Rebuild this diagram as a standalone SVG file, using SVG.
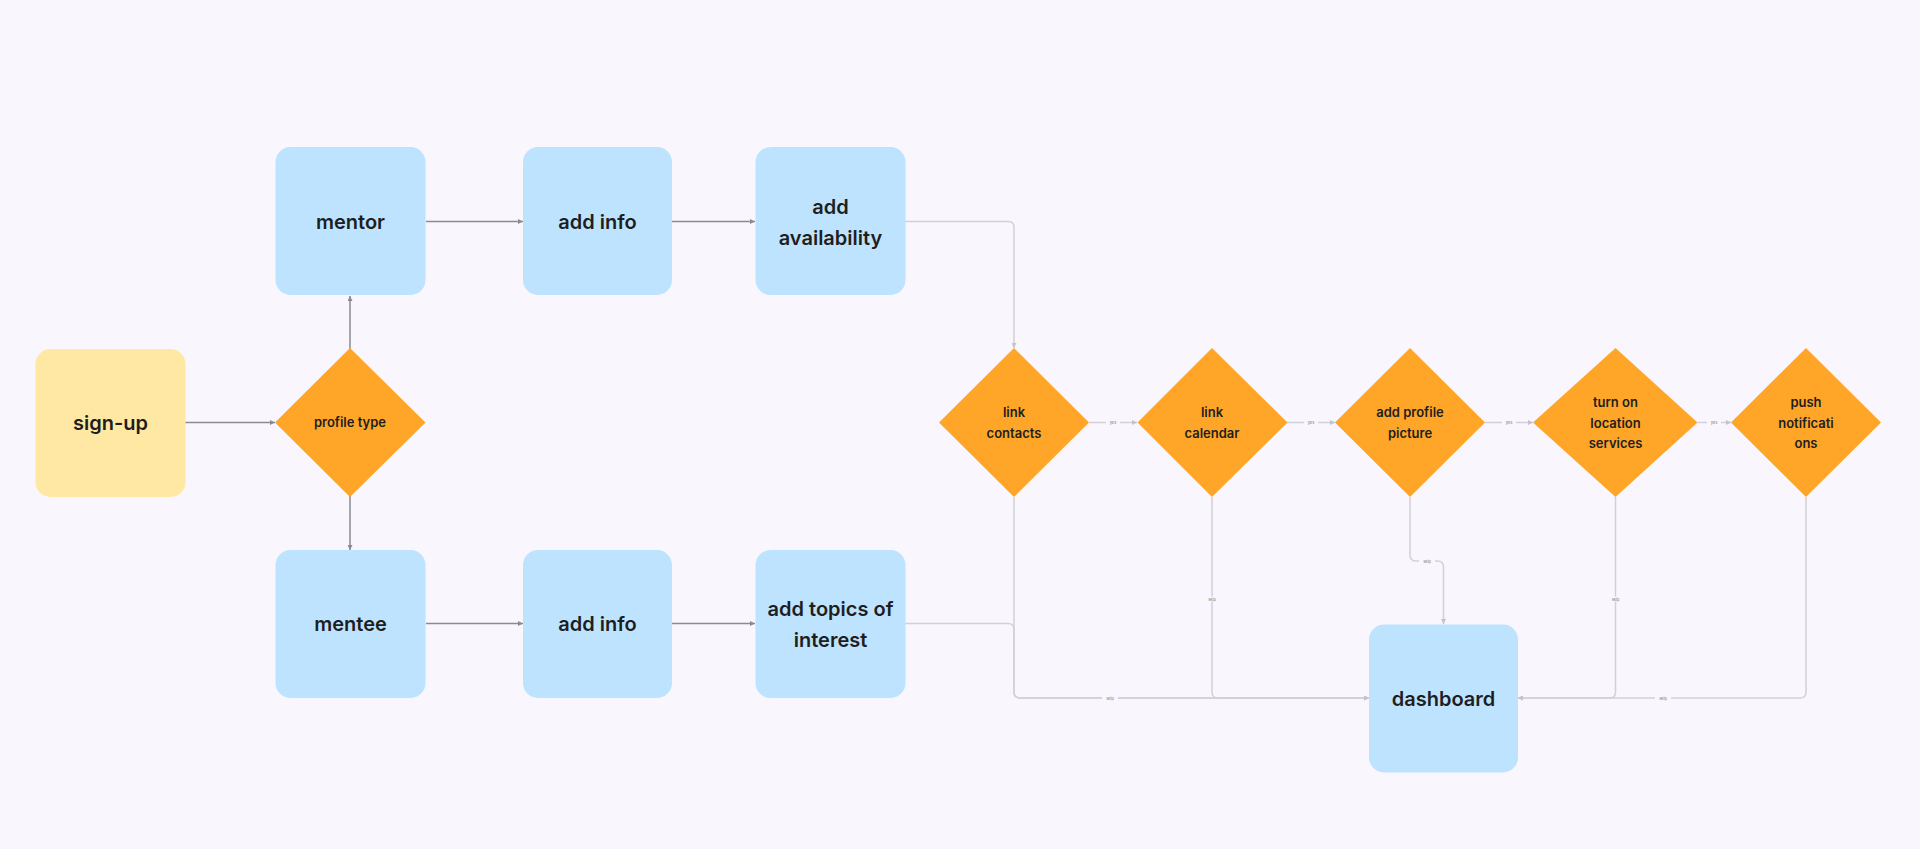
<svg xmlns="http://www.w3.org/2000/svg" width="1920" height="849" viewBox="0 0 1920 849">
<defs>
<style>
.bg{fill:#F9F7FD}
.box{fill:#BEE3FE}
.start{fill:#FFE8A3}
.dia{fill:#FFA629}
.t{font-family:Inter,"Noto Sans","Liberation Sans",sans-serif;font-weight:600;fill:#1E1E1E;text-anchor:middle}
.big{font-size:20px}
.sm{font-size:13px}
.dk{fill:none;stroke:#8A8A92;stroke-width:1.5}
.lt{fill:none;stroke:#D2D0DA;stroke-width:1.5}
.lbl{font-family:Inter,"Liberation Sans",sans-serif;font-size:4px;fill:#777;text-anchor:middle}
.lblbg{fill:#F9F7FD}
</style>
<marker id="ad" viewBox="0 0 6 6" refX="6" refY="3" markerWidth="5" markerHeight="5" markerUnits="userSpaceOnUse" orient="auto"><path d="M0 0L6 3L0 6z" fill="#8A8A92"/></marker>
<marker id="al" viewBox="0 0 6 6" refX="6" refY="3" markerWidth="5" markerHeight="5" markerUnits="userSpaceOnUse" orient="auto"><path d="M0 0L6 3L0 6z" fill="#C4C2CC"/></marker>
</defs>
<rect class="bg" x="0" y="0" width="1920" height="849"/>

<g id="connectors">
<path class="dk" d="M185 422.5H275" marker-end="url(#ad)"/>
<path class="dk" d="M350 349V296" marker-end="url(#ad)"/>
<path class="dk" d="M350 496V550" marker-end="url(#ad)"/>
<path class="dk" d="M426 221.5H523" marker-end="url(#ad)"/>
<path class="dk" d="M672 221.5H755" marker-end="url(#ad)"/>
<path class="dk" d="M426 623.5H523" marker-end="url(#ad)"/>
<path class="dk" d="M672 623.5H755" marker-end="url(#ad)"/>
<path class="lt" d="M905 221.5H1008Q1014 221.5 1014 227.5V348" marker-end="url(#al)"/>
<path class="lt" d="M905 623.5H1008Q1014 623.5 1014 629.5V692Q1014 698 1020 698H1369" marker-end="url(#al)"/>
<path class="lt" d="M1014 497V692Q1014 698 1020 698H1369" marker-end="url(#al)"/>
<path class="lt" d="M1212 497V692Q1212 698 1218 698H1369" marker-end="url(#al)"/>
<path class="lt" d="M1410 497V555Q1410 561 1416 561H1437.5Q1443.5 561 1443.5 567V624" marker-end="url(#al)"/>
<path class="lt" d="M1615.5 497V692Q1615.5 698 1609.5 698H1518" marker-end="url(#al)"/>
<path class="lt" d="M1806 497V692Q1806 698 1800 698H1518" marker-end="url(#al)"/>
<path class="lt" d="M1089 422.5H1137" marker-end="url(#al)"/>
<path class="lt" d="M1287 422.5H1335" marker-end="url(#al)"/>
<path class="lt" d="M1485 422.5H1533" marker-end="url(#al)"/>
<path class="lt" d="M1697.5 422.5H1731" marker-end="url(#al)"/>
<g>
<rect class="lblbg" x="1106" y="420" width="14" height="5"/><text class="lbl" x="1113" y="424">yes</text>
<rect class="lblbg" x="1304" y="420" width="14" height="5"/><text class="lbl" x="1311" y="424">yes</text>
<rect class="lblbg" x="1502" y="420" width="14" height="5"/><text class="lbl" x="1509" y="424">yes</text>
<rect class="lblbg" x="1707" y="420" width="14" height="5"/><text class="lbl" x="1714" y="424">yes</text>
<rect class="lblbg" x="1102" y="695.5" width="16" height="5"/><text class="lbl" x="1110" y="699.5">skip</text>
<rect class="lblbg" x="1204" y="596.5" width="16" height="5"/><text class="lbl" x="1212" y="600.5">skip</text>
<rect class="lblbg" x="1419" y="558.5" width="16" height="5"/><text class="lbl" x="1427" y="562.5">skip</text>
<rect class="lblbg" x="1607.5" y="596.5" width="16" height="5"/><text class="lbl" x="1615.5" y="600.5">skip</text>
<rect class="lblbg" x="1655" y="695.5" width="16" height="5"/><text class="lbl" x="1663" y="699.5">skip</text>
</g>
</g>

<g id="sign-up"><rect class="start" x="35.5" y="349" width="150" height="148" rx="15"/><text class="t big" x="110.5" y="430">sign-up</text></g>
<g id="profile-type"><polygon class="dia" points="350,348 425.5,422.5 350,497 275,422.5"/><text class="t sm" x="350" y="427">profile type</text></g>
<g id="mentor"><rect class="box" x="275.5" y="147" width="150" height="148" rx="15"/><text class="t big" x="350.5" y="228.5">mentor</text></g>
<g id="add-info-1"><rect class="box" x="523" y="147" width="149" height="148" rx="15"/><text class="t big" x="597.5" y="228.5">add info</text></g>
<g id="add-availability"><rect class="box" x="755.5" y="147" width="150" height="148" rx="15"/><text class="t big" x="830.5" y="214">add</text><text class="t big" x="830.5" y="244.5">availability</text></g>
<g id="mentee"><rect class="box" x="275.5" y="550" width="150" height="148" rx="15"/><text class="t big" x="350.5" y="630.5">mentee</text></g>
<g id="add-info-2"><rect class="box" x="523" y="550" width="149" height="148" rx="15"/><text class="t big" x="597.5" y="630.5">add info</text></g>
<g id="add-topics"><rect class="box" x="755.5" y="550" width="150" height="148" rx="15"/><text class="t big" x="830.5" y="616">add topics of</text><text class="t big" x="830.5" y="646.5">interest</text></g>
<g id="link-contacts"><polygon class="dia" points="1014,348 1089,422.5 1014,497 939,422.5"/><text class="t sm" x="1014" y="417">link</text><text class="t sm" x="1014" y="437.5">contacts</text></g>
<g id="link-calendar"><polygon class="dia" points="1212,348 1287.5,422.5 1212,497 1137.5,422.5"/><text class="t sm" x="1212" y="417">link</text><text class="t sm" x="1212" y="437.5">calendar</text></g>
<g id="add-profile-picture"><polygon class="dia" points="1410,348 1485,422.5 1410,497 1335,422.5"/><text class="t sm" x="1410" y="417">add profile</text><text class="t sm" x="1410" y="437.5">picture</text></g>
<g id="location-services"><polygon class="dia" points="1615.5,348 1697.5,422.5 1615.5,497 1533,422.5"/><text class="t sm" x="1615.5" y="407">turn on</text><text class="t sm" x="1615.5" y="427.5">location</text><text class="t sm" x="1615.5" y="448">services</text></g>
<g id="push-notifications"><polygon class="dia" points="1806,348 1881,422.5 1806,497 1731,422.5"/><text class="t sm" x="1806" y="407">push</text><text class="t sm" x="1806" y="427.5">notificati</text><text class="t sm" x="1806" y="448">ons</text></g>
<g id="dashboard"><rect class="box" x="1369" y="624.5" width="149" height="148" rx="15"/><text class="t big" x="1443.5" y="705.5">dashboard</text></g>
</svg>
